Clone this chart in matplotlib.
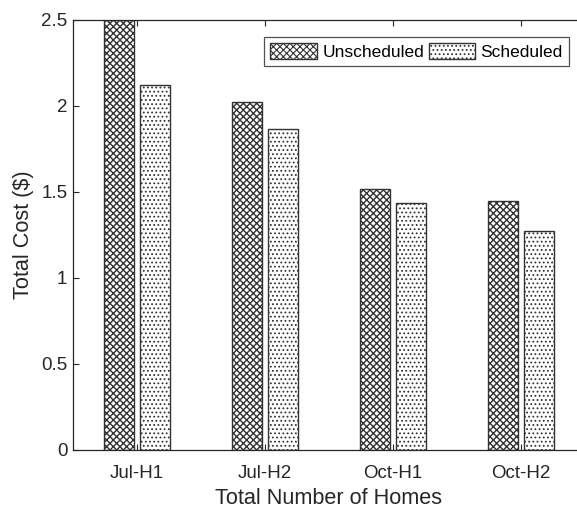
import numpy as np
import matplotlib.pyplot as plt

# total cost per case, with and without scheduling
cases = ['Jul-H1', 'Jul-H2', 'Oct-H1', 'Oct-H2']
unscheduled = [2.5, 2.025, 1.517, 1.446]
scheduled = [2.122, 1.865, 1.434, 1.273]

plt.rcParams['font.family'] = ['Liberation Sans', 'DejaVu Sans']
plt.rcParams['hatch.color'] = '#1a1a1a'
ink = '#262626'

fig = plt.figure(figsize=(5.77, 5.12), dpi=100)
ax = fig.add_axes([73 / 577, 62 / 512, 512 / 577, 430 / 512])

x = np.arange(1, len(cases) + 1)
w = 0.235
off = 0.143
# fine crosshatch for unscheduled, dot grid for scheduled
plt.rcParams['hatch.linewidth'] = 1.0
ax.bar(x - off, unscheduled, w, color='white', edgecolor='#333333',
       linewidth=1.0, hatch='xxxxx', label='Unscheduled')
plt.rcParams['hatch.linewidth'] = 0.8
ax.bar(x + off, scheduled, w, color='white', edgecolor='#333333',
       linewidth=1.0, hatch='....', label='Scheduled')

ax.set_xlim(0.5, 4.5)
ax.set_ylim(0, 2.5)
ax.set_xticks(x)
ax.set_xticklabels(cases)
ax.set_yticks([0, 0.5, 1, 1.5, 2, 2.5])
ax.set_yticklabels(['0', '0.5', '1', '1.5', '2', '2.5'])
ax.tick_params(direction='in', length=4, width=0.8, colors=ink,
               labelsize=13.5, top=True, right=False)
ax.tick_params(axis='x', pad=11)
ax.tick_params(axis='y', pad=4)
for s in ax.spines.values():
    s.set_color(ink)
    s.set_linewidth(0.9)
ax.spines['right'].set_visible(False)

ax.set_xlabel('Total Number of Homes', fontsize=15.6, color=ink, labelpad=4)
ax.set_ylabel('Total Cost ($)', fontsize=15.6, color=ink, labelpad=5)

leg = ax.legend(ncol=2, loc='upper right', bbox_to_anchor=(569 / 577, 475 / 512),
                bbox_transform=fig.transFigure, borderaxespad=0, fontsize=12.5,
                handlelength=2.7, handleheight=1.0, handletextpad=0.3,
                columnspacing=0.25, borderpad=0.35, fancybox=False)
leg.get_frame().set_edgecolor(ink)
leg.get_frame().set_linewidth(0.9)
for t in leg.get_texts():
    t.set_color('black')

fig.savefig('out.png', dpi=100)
